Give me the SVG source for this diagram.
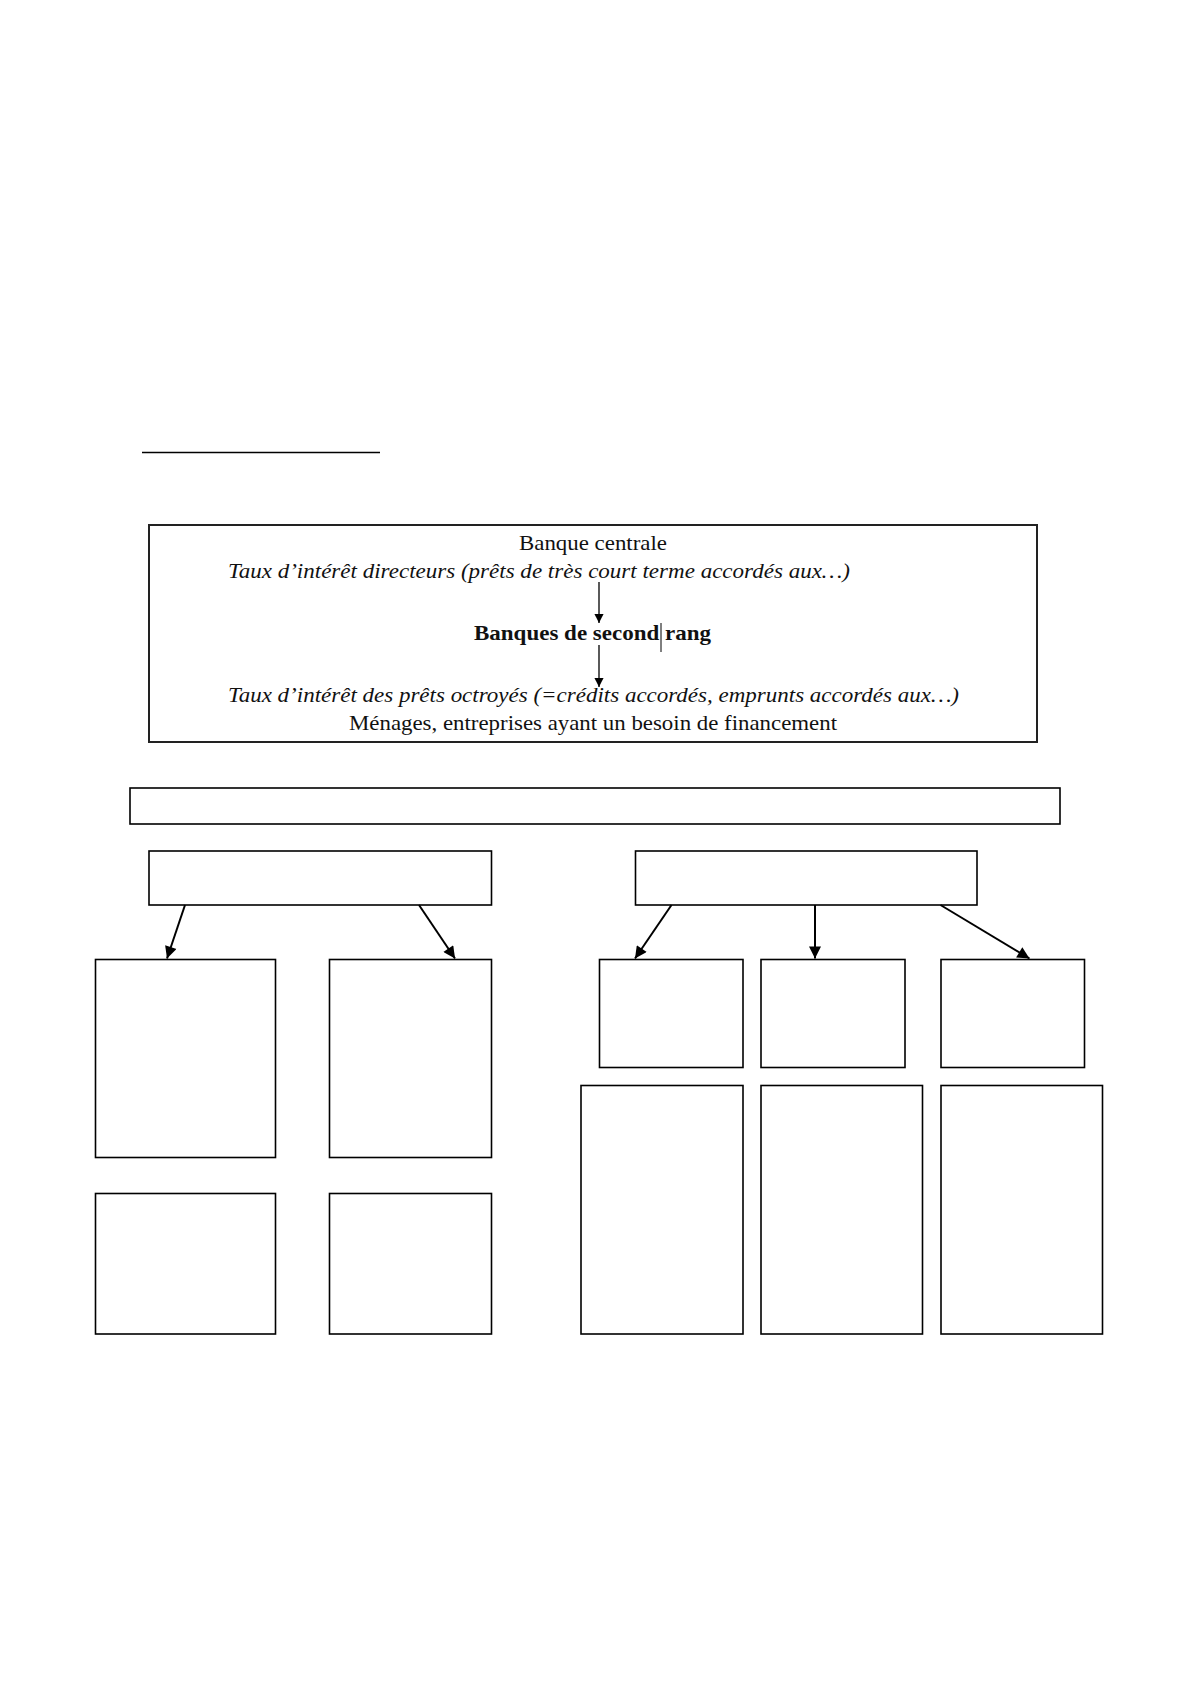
<svg xmlns="http://www.w3.org/2000/svg" width="1191" height="1684" viewBox="0 0 1191 1684">
  <style>
    .box { fill: #fff; stroke: #000; stroke-width: 1.6; }
    .conn { stroke: #000; stroke-width: 2; fill: none; }
    .thin { stroke: #000; stroke-width: 1.3; fill: none; }
    .t { font-family: "Liberation Serif", "Times New Roman", serif; font-size: 22px; fill: #111; }
    .it { font-style: italic; }
    .b { font-weight: bold; }
  </style>
  <defs>
    <marker id="ah" viewBox="0 0 10 10" refX="10" refY="5" markerWidth="7" markerHeight="6" markerUnits="strokeWidth" orient="auto">
      <path d="M0,0 L10,5 L0,10 z" fill="#000"/>
    </marker>
    <marker id="ahs" viewBox="0 0 10 10" refX="10" refY="5" markerWidth="9" markerHeight="7" markerUnits="strokeWidth" orient="auto">
      <path d="M0,0 L10,5 L0,10 z" fill="#000"/>
    </marker>
  </defs>
  <rect width="1191" height="1684" fill="#fff"/>

  <line x1="142" y1="452.5" x2="380" y2="452.5" stroke="#000" stroke-width="1.6"/>

  <g id="top-box">
    <rect x="149" y="525" width="888" height="217" fill="#fff" stroke="#222" stroke-width="2"/>
    <text class="t" x="593" y="550" text-anchor="middle" textLength="148" lengthAdjust="spacingAndGlyphs">Banque centrale</text>
    <text class="t it" x="228" y="578" textLength="622" lengthAdjust="spacingAndGlyphs">Taux d’intérêt directeurs (prêts de très court terme accordés aux…)</text>
    <text class="t b" x="474" y="640" textLength="237" lengthAdjust="spacingAndGlyphs">Banques de second rang</text>
    <line x1="661" y1="623" x2="661" y2="652" stroke="#000" stroke-width="1"/>
    <text class="t it" x="228" y="702" textLength="731" lengthAdjust="spacingAndGlyphs">Taux d’intérêt des prêts octroyés (=crédits accordés, emprunts accordés aux…)</text>
    <text class="t" x="349" y="730" textLength="488" lengthAdjust="spacingAndGlyphs">Ménages, entreprises ayant un besoin de financement</text>
  </g>

  <g id="wide-box"><rect class="box" x="130" y="788" width="930" height="36"/></g>
  <g id="left-parent"><rect class="box" x="149" y="851" width="342.5" height="54"/></g>
  <g id="right-parent"><rect class="box" x="635.5" y="851" width="341.5" height="54"/></g>

  <g id="box-a"><rect class="box" x="95.5" y="959.5" width="180" height="198"/></g>
  <g id="box-b"><rect class="box" x="329.5" y="959.5" width="162" height="198"/></g>
  <g id="box-c"><rect class="box" x="95.5" y="1193.5" width="180" height="140.5"/></g>
  <g id="box-d"><rect class="box" x="329.5" y="1193.5" width="162" height="140.5"/></g>

  <g id="box-e"><rect class="box" x="599.5" y="959.5" width="143.5" height="108"/></g>
  <g id="box-f"><rect class="box" x="761" y="959.5" width="144" height="108"/></g>
  <g id="box-g"><rect class="box" x="941" y="959.5" width="143.5" height="108"/></g>
  <g id="box-h"><rect class="box" x="581" y="1085.5" width="162" height="248.5"/></g>
  <g id="box-i"><rect class="box" x="761" y="1085.5" width="161.5" height="248.5"/></g>
  <g id="box-j"><rect class="box" x="941" y="1085.5" width="161.5" height="248.5"/></g>

  <g id="connectors">
    <line class="thin" x1="599" y1="582" x2="599" y2="623" marker-end="url(#ahs)"/>
    <line class="thin" x1="599" y1="645" x2="599" y2="687" marker-end="url(#ahs)"/>
    <line class="conn" x1="185" y1="905" x2="167" y2="958.5" marker-end="url(#ah)"/>
    <line class="conn" x1="419" y1="905" x2="455" y2="958.5" marker-end="url(#ah)"/>
    <line class="conn" x1="671.5" y1="905" x2="635" y2="958.5" marker-end="url(#ah)"/>
    <line class="conn" x1="815" y1="905" x2="815" y2="958.5" marker-end="url(#ah)"/>
    <line class="conn" x1="940.5" y1="905" x2="1029.5" y2="958.5" marker-end="url(#ah)"/>
  </g>
</svg>
